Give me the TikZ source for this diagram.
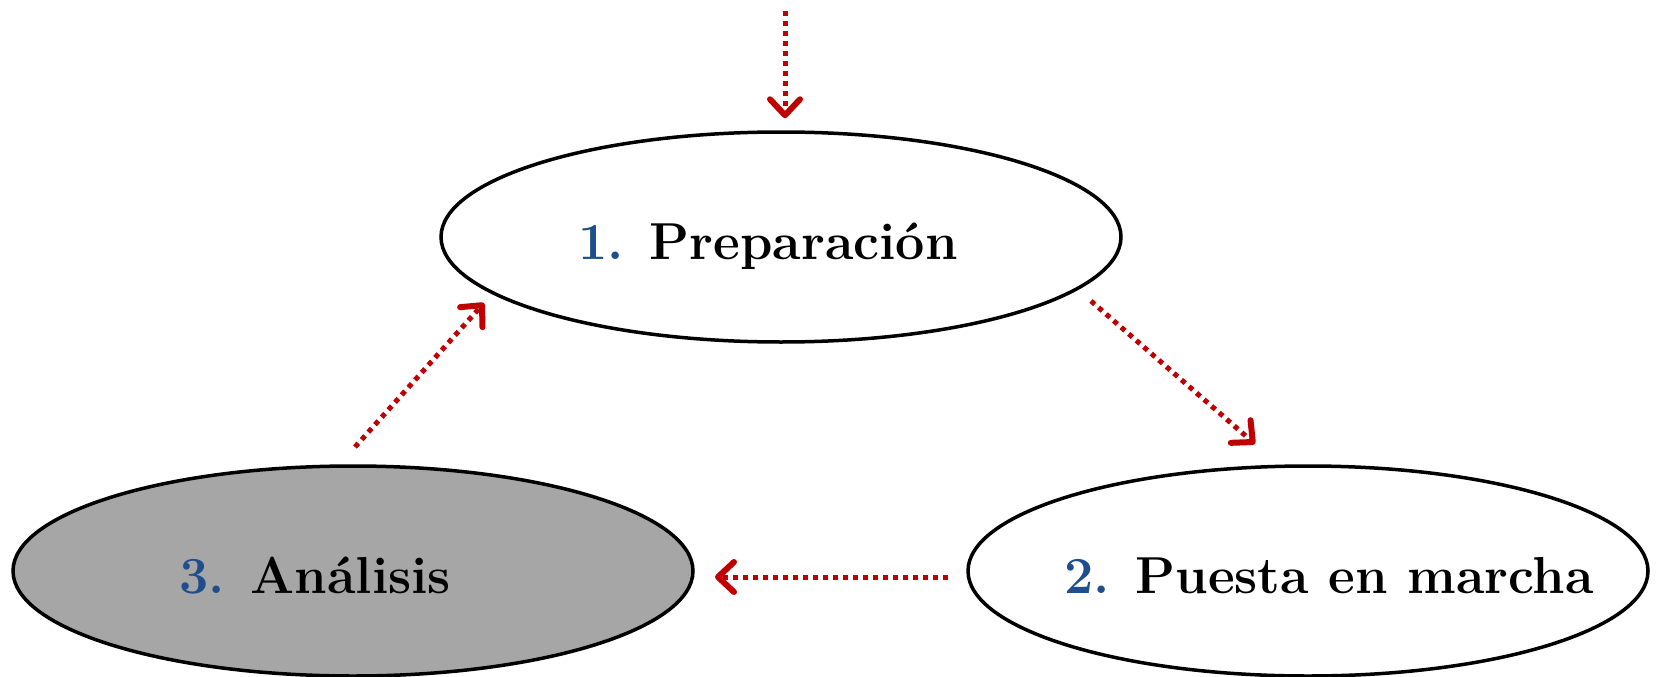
\documentclass[tikz,border=0pt]{standalone}
\usetikzlibrary{shapes.geometric,arrows.meta}
\definecolor{numblue}{HTML}{1F4E8C}
\definecolor{arrred}{HTML}{C00000}
\definecolor{greyfill}{HTML}{A6A6A6}
\newcommand{\phasetext}[3]{\makebox[0pt][c]{\hspace*{#3}\raisebox{-22pt}[0pt][0pt]{\textcolor{numblue}{#1} #2}}}
\begin{document}
\begin{tikzpicture}[x=1pt,y=-1pt,
  phase/.style={ellipse,draw=black,line width=3.5pt,minimum width=680pt,minimum height=210pt,inner sep=0pt,font=\fontsize{52}{58}\selectfont\bfseries},
  flow/.style={draw=arrred,line width=5pt,dash pattern=on 5pt off 5pt,
    -{Straight Barb[length=16pt,width=30pt,line width=6pt,line cap=round,line join=round]}}]
\useasboundingbox (0,0) rectangle (1657,677);
\node[phase] (p1) at (781,237) {\phasetext{1.}{Preparación}{-26pt}};
\node[phase] (p2) at (1308,571) {\phasetext{2.}{Puesta en marcha}{42pt}};
\node[phase,fill=greyfill] (p3) at (353,571) {\phasetext{3.}{Análisis}{-76pt}};
\coordinate (top) at (785,11);
\draw[flow,shorten >=12pt] (top) -- (p1.north -| top);
\coordinate (s12) at (1091,301);
\coordinate (e12) at (1255,444);
\draw[flow] (s12) -- (e12);
\coordinate (s23) at (948,577);
\coordinate (e23) at (715,577);
\draw[flow] (s23) -- (e23);
\coordinate (s31) at (355,447);
\coordinate (e31) at (484,303);
\draw[flow] (s31) -- (e31);
\end{tikzpicture}
\end{document}
